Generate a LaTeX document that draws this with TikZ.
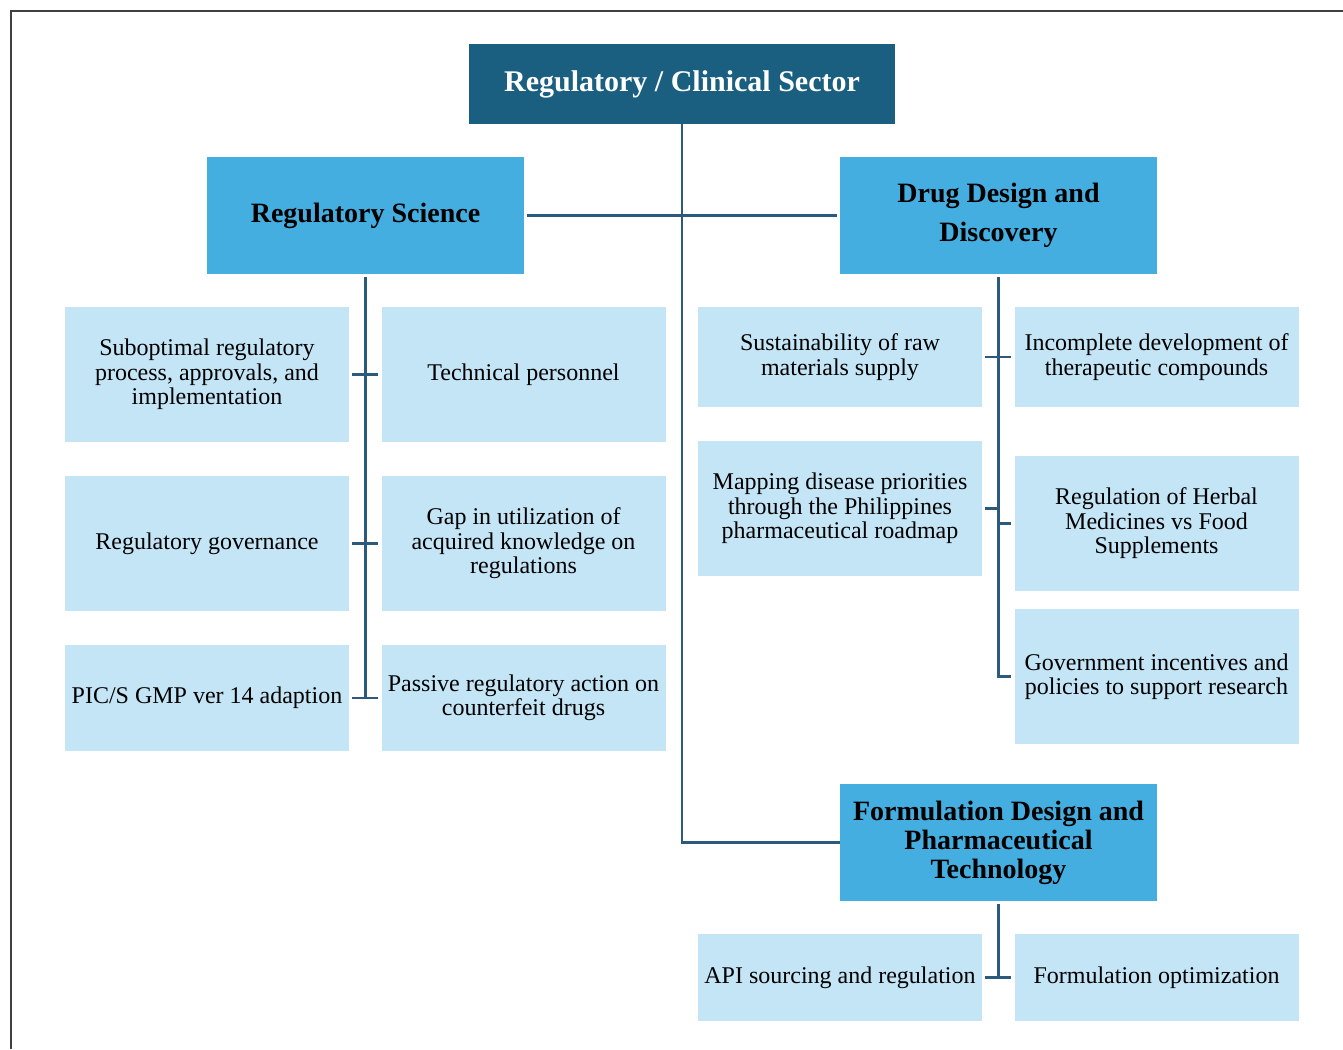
\documentclass[tikz,border=0pt]{standalone}
\usepackage{fontspec}
\setmainfont{Liberation Serif}

\definecolor{sectorblue}{HTML}{1B5F80}
\definecolor{areablue}{HTML}{44AEE0}
\definecolor{issueblue}{HTML}{C3E5F6}
\definecolor{linkblue}{HTML}{2C5A7C}

\begin{document}
\begin{tikzpicture}[
    x=1pt, y=-1pt,
    sector/.style={fill=sectorblue, text=white, font=\fontsize{30}{34}\selectfont\bfseries,
        minimum width=426pt, minimum height=80pt, inner sep=0pt, align=center},
    area/.style={fill=areablue, text=black, font=\fontsize{28}{29}\selectfont\bfseries,
        minimum width=317pt, minimum height=117pt, inner sep=0pt, align=center},
    issue/.style={fill=issueblue, text=black, font=\fontsize{24}{24.5}\selectfont,
        minimum width=284pt, inner sep=0pt, align=center},
    link/.style={draw=linkblue, line width=2.6pt},
    gap/.style={shorten <=3pt, shorten >=3pt}
]
    \useasboundingbox (0,0) rectangle (1343,1049);
    % frame of the page, cut at right and bottom
    \draw[line width=1.8pt, black!75] (1343,11) -- (11,11) -- (11,1049);

    % top level
    \node[sector] (sector) at (682,84) {Regulatory / Clinical Sector};

    % three areas
    \node[area] (regsci) at (365.5,215.5) {Regulatory Science};
    \node[area, font=\fontsize{28}{39}\selectfont\bfseries] (drug) at (998.5,215.5) {Drug Design and\\Discovery};
    \node[area] (formul) at (998.5,842.5) {Formulation Design and\\Pharmaceutical\\Technology};

    % regulatory science issues
    \node[issue, minimum height=135pt] (subopt) at (207,374.5) {Suboptimal regulatory\\process, approvals, and\\implementation};
    \node[issue, minimum height=135pt] (techpers) at (523.5,374.5) {Technical personnel};
    \node[issue, minimum height=135pt] (governance) at (207,543.5) {Regulatory governance};
    \node[issue, minimum height=135pt] (gapknow) at (523.5,543.5) {Gap in utilization of\\acquired knowledge on\\regulations};
    \node[issue, minimum height=106pt] (pics) at (207,698) {PIC/S GMP ver 14 adaption};
    \node[issue, minimum height=106pt] (passive) at (523.5,698) {Passive regulatory action on\\counterfeit drugs};

    % drug design issues
    \node[issue, minimum height=100pt] (rawmat) at (840,357) {Sustainability of raw\\materials supply};
    \node[issue, minimum height=100pt] (incomplete) at (1156.5,357) {Incomplete development of\\therapeutic compounds};
    \node[issue, minimum height=135pt] (mapping) at (840,508.5) {Mapping disease priorities\\through the Philippines\\pharmaceutical roadmap};
    \node[issue, minimum height=135pt] (herbal) at (1156.5,523.5) {Regulation of Herbal\\Medicines vs Food\\Supplements};
    \node[issue, minimum height=135pt] (incentives) at (1156.5,676.5) {Government incentives and\\policies to support research};

    % formulation issues
    \node[issue, minimum height=87pt] (apisrc) at (840,977.5) {API sourcing and regulation};
    \node[issue, minimum height=87pt] (formopt) at (1156.5,977.5) {Formulation optimization};

    % connectors
    \draw[link] (sector.south) -- (sector.south |- formul.west) -- (formul.west);
    \draw[link, gap] (regsci.east) -- (drug.west);

    \draw[link, shorten <=3pt] (regsci.south) -- (regsci.south |- pics.east);
    \draw[link, gap] (subopt.east) -- (techpers.west);
    \draw[link, gap] (governance.east) -- (gapknow.west);
    \draw[link, gap] (pics.east) -- (passive.west);

    \draw[link, shorten <=3pt, shorten >=3pt] (drug.south) -- (drug.south |- incentives.west) -- (incentives.west);
    \draw[link, gap] (rawmat.east) -- (incomplete.west);
    \draw[link, shorten <=3pt] (mapping.east) -- (mapping.east -| drug.south);
    \draw[link, shorten <=3pt] (herbal.west) -- (herbal.west -| drug.south);

    \draw[link, shorten <=3pt] (formul.south) -- (formul.south |- apisrc.east);
    \draw[link, gap] (apisrc.east) -- (formopt.west);
\end{tikzpicture}
\end{document}
